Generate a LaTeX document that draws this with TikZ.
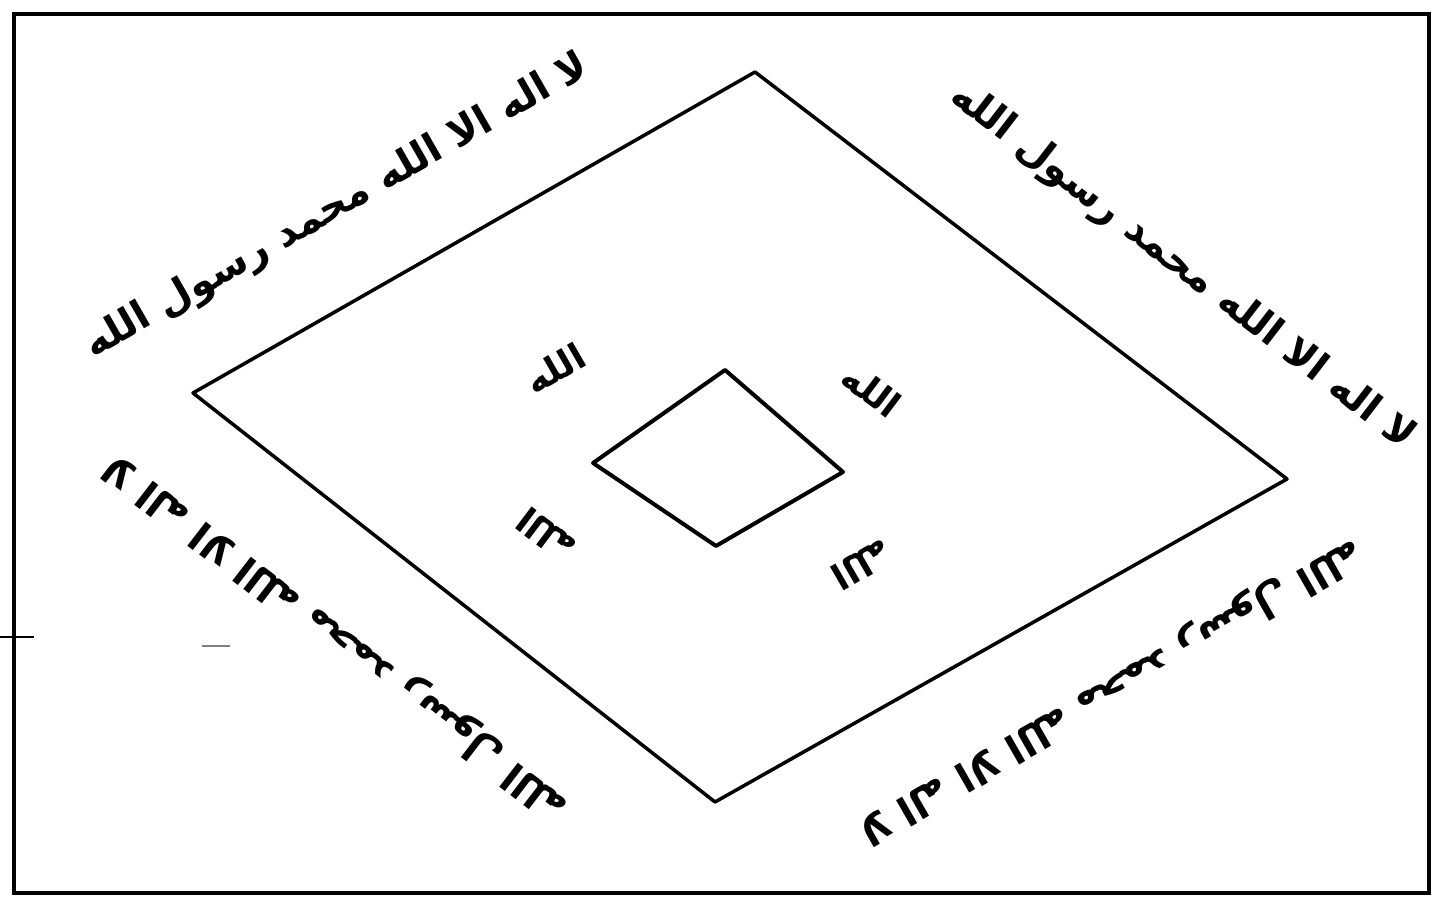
\documentclass[tikz,border=0pt]{standalone}
\usepackage{fontspec}
\usepackage{tikz}
\usetikzlibrary{positioning}
\TeXXeTstate=1
\newfontfamily\arabicfont[Script=Arabic]{DejaVu Sans}
\newcommand{\kalimatext}{\beginR لا اله الا الله محمد رسول الله\endR}
\newcommand{\allahtext}{\beginR الله\endR}

\begin{document}
\begin{tikzpicture}[x=1pt, y=-1pt,
    frameline/.style={line width=4.5pt},
    edgeline/.style={line width=3.5pt, line join=round},
    kalima/.style={font=\arabicfont\bfseries\fontsize{40}{48}\selectfont, inner sep=0pt},
    allah/.style={font=\arabicfont\bfseries\fontsize{36}{42}\selectfont, inner sep=0pt}]
  \useasboundingbox (0,0) rectangle (1434,901);
  % Frame
  \draw[frameline] (14,14) rectangle (1429,893);
  % Outer quadrilateral
  \coordinate (otop) at (755,72);
  \coordinate (oleft) at (193,393);
  \coordinate (obot) at (715,802);
  \coordinate (oright) at (1287,479);
  \draw[edgeline] (otop) -- (oright) -- (obot) -- (oleft) -- cycle;
  % Inner quadrilateral
  \coordinate (itop) at (725,370);
  \coordinate (ileft) at (593,463);
  \coordinate (ibot) at (716,546);
  \coordinate (iright) at (843,472);
  \draw[edgeline, line width=4pt] (itop) -- (iright) -- (ibot) -- (ileft) -- cycle;
  % Kalima along the four sides
  \node[kalima, rotate=29.8] (kalimaTL) at (337,207) {\kalimatext};
  \node[kalima, rotate=-37.6] (kalimaTR) at (1182,267) {\kalimatext};
  \node[kalima, rotate=142.4] (kalimaBL) at (337,636) {\kalimatext};
  \node[kalima, rotate=209.8] (kalimaBR) at (1110,690) {\kalimatext};
  % Allah round the inner quadrilateral
  \node[allah, rotate=30] (allahTL) at (555,368) {\allahtext};
  \node[allah, rotate=-37] (allahTR) at (872,390) {\allahtext};
  \node[allah, rotate=143] (allahBL) at (546,535) {\allahtext};
  \node[allah, rotate=210] (allahBR) at (862,565) {\allahtext};
  % Stray marks
  \draw[line width=2pt] (0,637) -- (34,637);
  \draw[line width=1.5pt, gray] (202,646) -- (230,646);
\end{tikzpicture}
\end{document}
